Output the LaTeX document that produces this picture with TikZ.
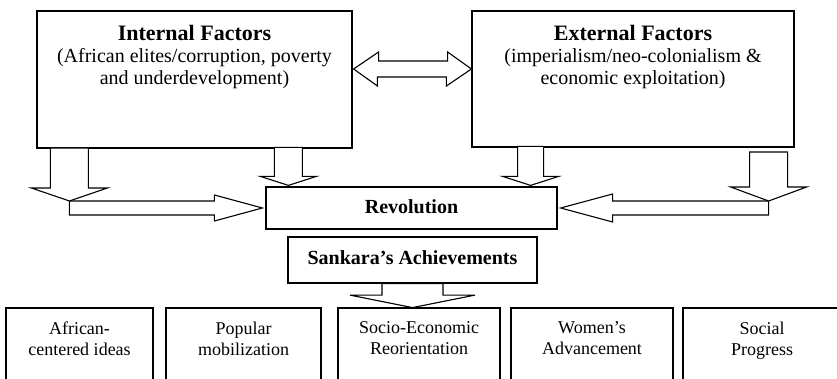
\documentclass[tikz,border=0pt]{standalone}
\usepackage{fontspec}
\setmainfont{Liberation Serif}
\usetikzlibrary{positioning,calc}

\begin{document}
\begin{tikzpicture}[x=1pt,y=1pt,
	box/.style={draw, line width=1.2pt, fill=white, inner sep=0pt},
	blockarrow/.style={draw, line width=1.1pt, fill=white, line join=miter},
	factortext/.style={align=center, inner sep=0pt, font=\fontsize{20}{22}\selectfont},
	headtext/.style={font=\fontsize{20}{22}\selectfont\bfseries},
	outcome/.style={align=center, inner sep=0pt, font=\fontsize{18}{21}\selectfont}]
				\useasboundingbox (0,0) rectangle (837,379);
				\clip (0,0) rectangle (837,379);
				\fill[white] (0,0) rectangle (837,379);

				% factors
				\node[box, minimum width=315, minimum height=137] (int) at (194.5,299.5) {};
				\node[box, minimum width=322, minimum height=136] (ext) at (633,300) {};
				\node[factortext, below=15pt of int.north] (int-label) {{\fontsize{22}{22}\selectfont\bfseries Internal Factors}\\(African elites/corruption, poverty\\and underdevelopment)};
				\node[factortext, below=15pt of ext.north] (ext-label) {{\fontsize{22}{22}\selectfont\bfseries External Factors}\\(imperialism/neo-colonialism \&\\economic exploitation)};

				% revolution and achievements
				\node[box, headtext, minimum width=291, minimum height=42, text depth=3pt] (rev) at (411.5,171) {Revolution};
				\node[box, headtext, minimum width=249, minimum height=46, text depth=5pt] (sank) at (412.5,119) {Sankara’s Achievements};

				\foreach \n/\cx/\w/\txt in {b1/79.5/147/{African-\\centered ideas}, b2/243.5/155/{Popular\\mobilization}, b3/419/162/{Socio-Economic\\Reorientation}, b4/592/162/{Women’s\\Advancement}, b5/762/158/{Social\\Progress}} {
						\node[box, minimum width=\w, minimum height=90] (\n) at (\cx,26) {};
						\node[outcome, below=14pt of \n.north] (\n-label) {\txt};
					}

				% block arrows
				\coordinate (dl) at ($(int.east)+(1,10.5)$);
				\draw[blockarrow] (dl) -- ++(25,17) -- ++(0,-9) -- ++(69,0) -- ++(0,9) -- (ext.west |- dl) -- ++(-25,-17) -- ++(0,9) -- ++(-69,0) -- ++(0,-9) -- cycle;

				\coordinate (tb) at ($(rev.west)+(-3,0)$);
				\draw[blockarrow] (tb) -- ++(-48,13) -- ++(0,-6) -- ++(-145,0) -- ++(0,-14) -- ++(145,0) -- ++(0,-6) -- cycle;
				\coordinate (ta) at ($(tb)+(-193,7)$);
				\draw[blockarrow] (ta) -- ++(-38,13) -- ++(19,0) -- ++(0,40) -- ++(38,0) -- ++(0,-40) -- ++(19,0) -- cycle;

				\coordinate (tc) at ($(rev.north west)+(23,1)$);
				\draw[blockarrow] (tc) -- ++(-28,9) -- ++(14,0) -- ++(0,29) -- ++(28,0) -- ++(0,-29) -- ++(14,0) -- cycle;

				\coordinate (td) at ($(rev.north east)+(-27,1)$);
				\draw[blockarrow] (td) -- ++(-28,9) -- ++(15,0) -- ++(0,30) -- ++(26,0) -- ++(0,-30) -- ++(15,0) -- cycle;

				\coordinate (tf) at ($(rev.east)+(3,0)$);
				\draw[blockarrow] (tf) -- ++(52,14) -- ++(0,-7) -- ++(156,0) -- ++(0,-14) -- ++(-156,0) -- ++(0,-7) -- cycle;
				\coordinate (te) at ($(tf)+(208,7)$);
				\draw[blockarrow] (te) -- ++(-38,14) -- ++(19,0) -- ++(0,35) -- ++(38,0) -- ++(0,-35) -- ++(19,0) -- cycle;

				\coordinate (tg) at ($(sank.south)+(0,-24)$);
				\draw[blockarrow] (tg) -- ++(-62.5,12.5) -- ++(32,0) -- ++(0,11.5) -- ++(61,0) -- ++(0,-11.5) -- ++(32,0) -- cycle;
			\end{tikzpicture}
\end{document}
